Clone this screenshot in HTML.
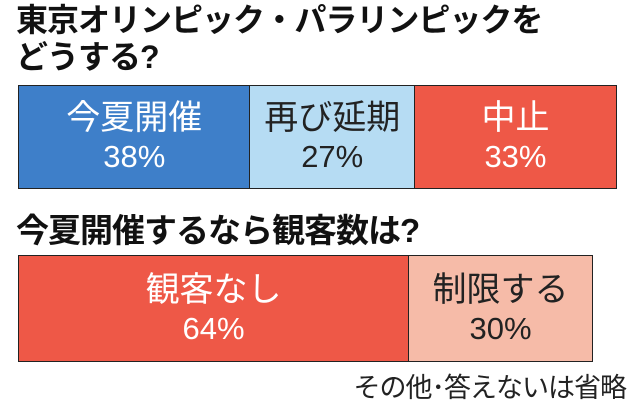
<!DOCTYPE html>
<html><head><meta charset="utf-8"><style>
body{margin:0;width:640px;height:413px;background:#fff;font-family:"Liberation Sans","Noto Sans CJK JP",sans-serif;position:relative;overflow:hidden}
.t{position:absolute;left:16px;font-weight:bold;font-size:32px;line-height:37px;color:#111;letter-spacing:-1px;white-space:nowrap}
.bar{position:absolute;left:18px;border:1.5px solid #222;box-sizing:border-box;display:flex}
.seg{height:100%;display:flex;flex-direction:column;align-items:center;justify-content:center;box-sizing:border-box;border-right:1.5px solid #222}
.seg:last-child{border-right:none}
.lab{font-size:34px;line-height:40px}
.pct{font-size:31px;line-height:38px}
.note{position:absolute;right:14px;top:366px;font-size:27px;color:#222;letter-spacing:-1px}
</style></head><body>
<div class="t" style="top:2px">東京オリンピック・パラリンピックを<br>どうする?</div>
<div id="bar1" class="bar" style="top:85px;width:599px;height:104px"></div>
<div class="t" style="top:212px;font-size:33px">今夏開催するなら観客数は?</div>
<div id="bar2" class="bar" style="top:255px;width:575px;height:107px"></div>
<div class="note">その他･答えないは省略</div>
<script>
const cats1=["今夏開催","再び延期","中止"];
const vals1=[38,27,33];
const cols1=["#3e7fc9","#b6dcf3","#ee5847"];
const txt1=["#fff","#222","#fff"];
const cats2=["観客なし","制限する"];
const vals2=[64,30];
const cols2=["#ee5847","#f6bba8"];
const txt2=["#fff","#222"];
function draw(id,cats,vals,cols,txt){
  const el=document.getElementById(id);
  const total=vals.reduce((a,b)=>a+b,0);
  cats.forEach((c,i)=>{
    const s=document.createElement('div');
    s.className='seg';
    
    
    s.style.width=(vals[i]/total*100)+'%';
    s.style.background=cols[i];
    s.style.color=txt[i];
    s.innerHTML='<div class="lab">'+c+'</div><div class="pct">'+vals[i]+'%</div>';
    el.appendChild(s);
  });
}
draw('bar1',cats1,vals1,cols1,txt1);
draw('bar2',cats2,vals2,cols2,txt2);
</script>
</body></html>
